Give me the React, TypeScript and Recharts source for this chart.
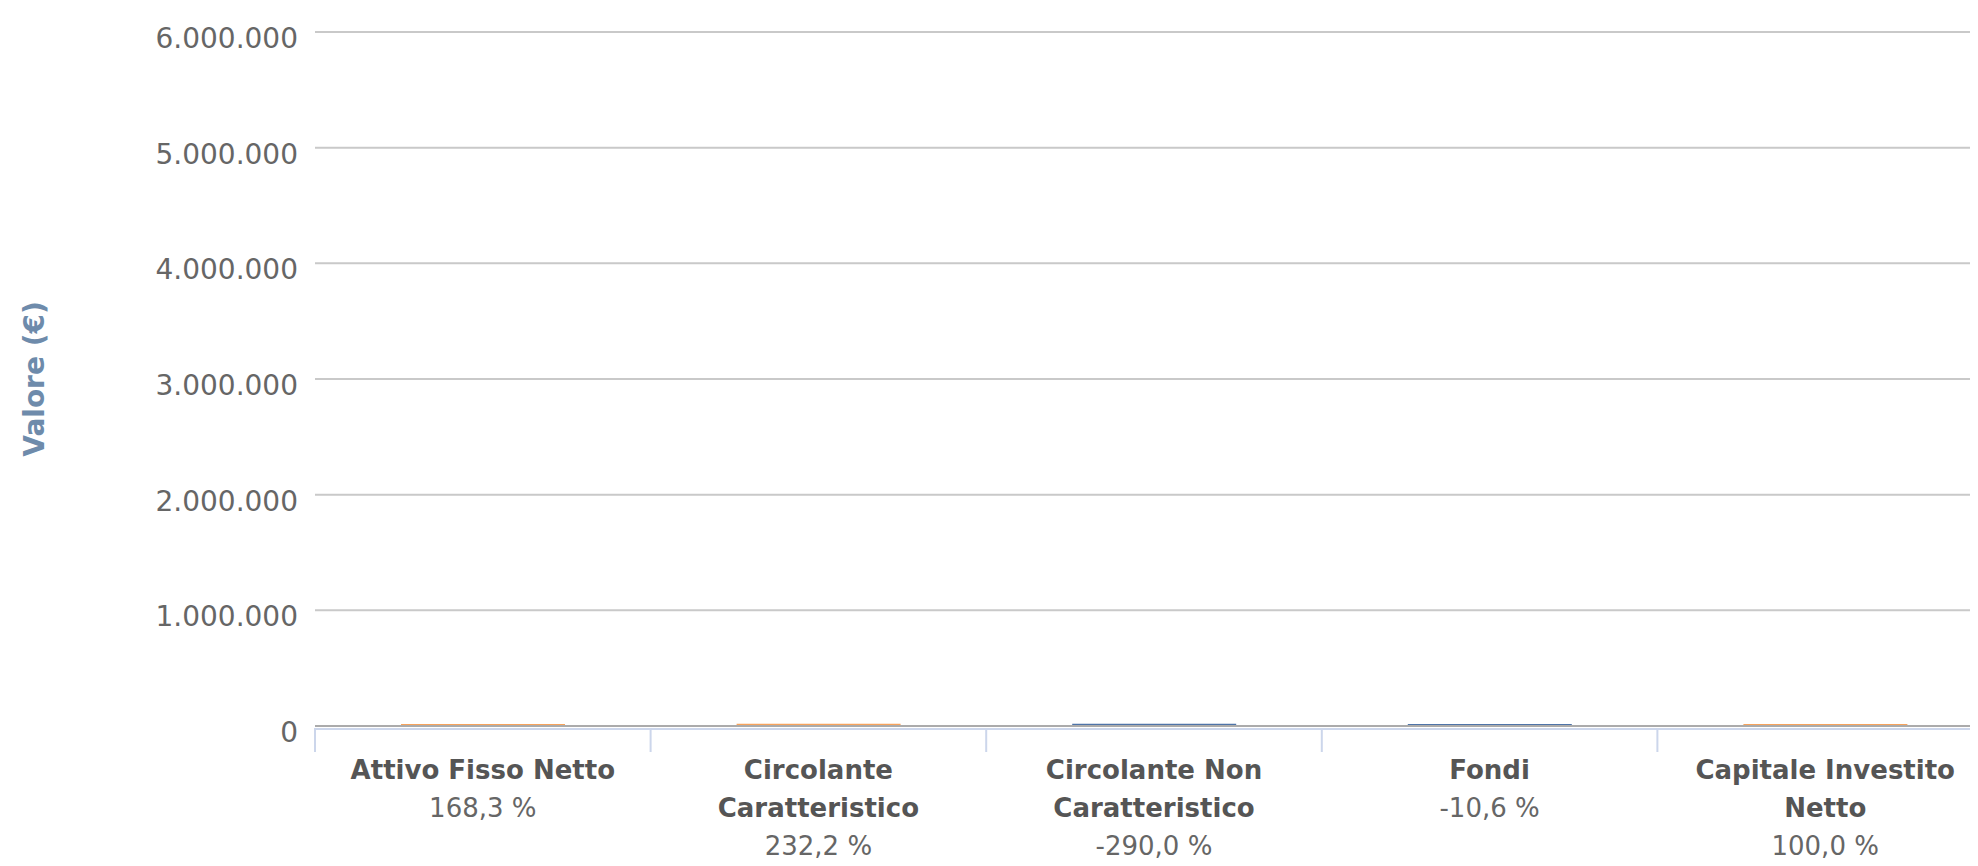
import React from 'react';
import { BarChart, Bar, XAxis, YAxis, CartesianGrid, ReferenceLine, Cell } from 'recharts';

// categories and their wrapped label lines
const categories = [
  'Attivo Fisso Netto',
  'Circolante Caratteristico',
  'Circolante Non Caratteristico',
  'Fondi',
  'Capitale Investito Netto',
];
const labelLines = [
  ['Attivo Fisso Netto'],
  ['Circolante', 'Caratteristico'],
  ['Circolante Non', 'Caratteristico'],
  ['Fondi'],
  ['Capitale Investito', 'Netto'],
];

// waterfall steps in €, the last column is the running total
const changes = [1683, 2322, -2900, -106, 0];
const isTotal = [false, false, false, false, true];
const percents = [168.3, 232.2, -290.0, -10.6, 100.0];

const yTicks = [0, 1000000, 2000000, 3000000, 4000000, 5000000, 6000000];

const ORANGE = '#f7a35c';
const BLUE = '#4f74a8';

const CHART_W = 1985;
const CHART_H = 858;
const Y_AXIS_W = 307;
const PLOT_W = CHART_W - Y_AXIS_W;
const HALF_BAND = PLOT_W / categories.length / 2;

// the plot runs past the right edge of the window, as in the original
if (typeof document !== 'undefined') {
  document.body.style.overflow = 'hidden';
}

let running = 0;
const data = categories.map((name, i) => {
  if (isTotal[i]) {
    return { name, range: [0, running], up: true };
  }
  const start = running;
  running += changes[i];
  return { name, range: [Math.min(start, running), Math.max(start, running)], up: changes[i] >= 0 };
});

const fmtThousands = (v: number) => String(v).replace(/\B(?=(\d{3})+(?!\d))/g, '.');
const fmtPct = (v: number) => v.toFixed(1).replace('.', ',') + ' %';

function CategoryTick(props: any) {
  const { x, y, payload, index } = props;
  const i = payload && payload.index != null ? payload.index : index;
  const lines = labelLines[i] || [];
  const edge = x + HALF_BAND;
  return (
    <g>
      <line x1={x - HALF_BAND} x2={x - HALF_BAND} y1={y + 2} y2={y + 26} stroke="#ccd6eb" strokeWidth={2} />
      {i === categories.length - 1 && (
        <line x1={edge} x2={edge} y1={y + 2} y2={y + 26} stroke="#ccd6eb" strokeWidth={2} />
      )}
      {lines.map((ln, k) => (
        <text key={k} x={x} y={y + 53 + k * 38} textAnchor="middle" fontSize={26} fontWeight="bold" fill="#555555">
          {ln}
        </text>
      ))}
      <text x={x} y={y + 53 + lines.length * 38} textAnchor="middle" fontSize={26} fill="#666666">
        {fmtPct(percents[i])}
      </text>
    </g>
  );
}

function YTitle(props: any) {
  const vb = props.viewBox || {};
  const cx = vb.x + 26;
  const cy = vb.y + vb.height / 2;
  return (
    <text
      x={cx}
      y={cy}
      transform={`rotate(-90 ${cx} ${cy})`}
      textAnchor="middle"
      dominantBaseline="central"
      fontSize={28}
      fontWeight="bold"
      fill="#6e8bab"
    >
      Valore (€)
    </text>
  );
}

export default function App() {
  return (
    <div style={{ width: CHART_W, height: CHART_H, fontFamily: '"DejaVu Sans", sans-serif' }}>
      <BarChart
        width={CHART_W}
        height={CHART_H}
        data={data}
        margin={{ top: 24, right: 0, bottom: 0, left: 0 }}
      >
        <CartesianGrid vertical={false} stroke="#c9c9c9" strokeWidth={2} />
        <XAxis
          dataKey="name"
          interval={0}
          height={140}
          tickSize={0}
          tickMargin={0}
          tickLine={false}
          tick={<CategoryTick />}
          axisLine={{ stroke: '#ccd6eb', strokeWidth: 2, transform: 'translate(0 3)' }}
        />
        <YAxis
          width={Y_AXIS_W}
          domain={[0, 6000000]}
          ticks={yTicks}
          interval={0}
          tickFormatter={fmtThousands}
          tick={{ fill: '#666666', fontSize: 28, dy: 6 }}
          tickSize={0}
          tickMargin={17}
          axisLine={false}
          tickLine={false}
          label={<YTitle />}
        />
        <Bar dataKey="range" barSize={164} minPointSize={2} isAnimationActive={false}>
          {data.map((d, i) => (
            <Cell key={i} fill={d.up ? ORANGE : BLUE} />
          ))}
        </Bar>
        <ReferenceLine y={0} stroke="#ababab" strokeWidth={2} />
      </BarChart>
    </div>
  );
}
